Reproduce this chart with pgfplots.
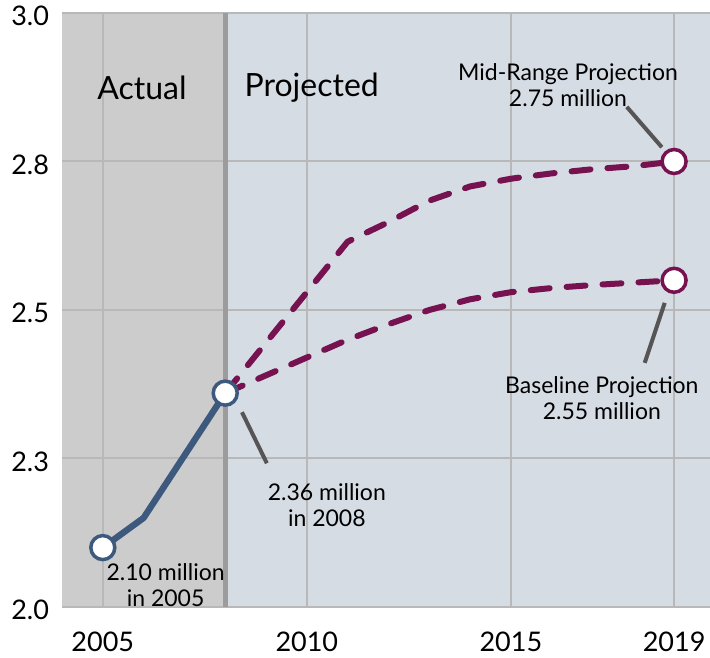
\documentclass[border=0pt]{standalone}
\usepackage{fontspec}
\setmainfont{Lato}
\usepackage{pgfplots}
\pgfplotsset{compat=1.18}
\definecolor{actbg}{HTML}{CCCCCC}
\definecolor{projbg}{HTML}{D6DCE4}
\definecolor{gridc}{HTML}{B8B8B8}
\definecolor{actline}{HTML}{3D5A7E}
\definecolor{projline}{HTML}{76124F}
\definecolor{conn}{HTML}{555555}
\definecolor{divline}{HTML}{9C9C9C}
\begin{document}
\begin{tikzpicture}
\begin{axis}[
  set layers,
  scale only axis,
  width=324bp, height=297bp,
  xmin=2004, xmax=2019.88,
  ymin=2, ymax=3,
  xtick={2005,2010,2015,2019},
  xticklabels={2005,2010,2015,2019},
  ytick={2,2.25,2.5,2.75,3},
  yticklabels={2.0,2.3,2.5,2.8,3.0},
  major tick length=0pt,
  axis line style={draw=none},
  grid=major,
  major grid style={draw=gridc, line width=1bp},
  axis background/.style={fill=projbg},
  tick label style={font=\fontsize{13.5bp}{16bp}\selectfont},
  /pgf/number format/assume math mode=true,
  xticklabel style={yshift=-9bp},
  yticklabel style={xshift=-3bp, yshift=-1.5bp},
  clip=false,
]
\addplot[fill=actbg, draw=none, on layer=axis background]
  coordinates {(2004,2) (2008,2) (2008,3) (2004,3)} -- cycle;
\draw[draw=divline, line width=2.5bp] (axis cs:2008,2) -- (axis cs:2008,3);

% projections
\addplot[projline, line width=3bp, line cap=round, dash pattern=on 9.5bp off 8.5bp, line join=round]
  coordinates {(2008,2.36) (2011,2.615) (2012,2.648) (2013,2.684) (2014,2.708) (2015,2.721) (2016,2.73) (2017,2.737) (2018,2.742) (2019,2.75)};
\addplot[projline, line width=3bp, line cap=round, dash pattern=on 9.5bp off 8.5bp, line join=round]
  coordinates {(2008,2.36) (2009,2.39) (2010,2.42) (2011,2.45) (2012,2.476) (2013,2.50) (2014,2.518) (2015,2.53) (2016,2.537) (2017,2.542) (2018,2.546) (2019,2.55)};
% actual
\addplot[actline, line width=3.2bp, line join=round]
  coordinates {(2005,2.10) (2006,2.15) (2007,2.255) (2008,2.36)};
% markers
\addplot[only marks, mark=*, mark size=6bp, mark options={draw=actline, fill=white, line width=1.75bp}]
  coordinates {(2005,2.10) (2008,2.36)};
\addplot[only marks, mark=*, mark size=6bp, mark options={draw=projline, fill=white, line width=1.75bp}]
  coordinates {(2019,2.75) (2019,2.55)};

% connectors
\draw[conn, line width=2bp] (axis cs:2009.02,2.242) -- (axis cs:2008.41,2.328);
\draw[conn, line width=2bp] (axis cs:2017.84,2.842) -- (axis cs:2018.70,2.774);
\draw[conn, line width=2bp] (axis cs:2018.77,2.512) -- (axis cs:2018.28,2.411);

% labels
\node[font=\fontsize{16bp}{19bp}\selectfont] at (axis cs:2005.96,2.874) {Actual};
\node[font=\fontsize{16bp}{19bp}\selectfont] at (axis cs:2010.12,2.874) {Projected};
\node[align=center, font=\fontsize{11.5bp}{13bp}\selectfont] at (axis cs:2006.54,2.037) {2.10 million\\in 2005};
\node[align=center, font=\fontsize{11.5bp}{13bp}\selectfont] at (axis cs:2010.49,2.172) {2.36 million\\in 2008};
\node[align=center, font=\fontsize{11.5bp}{13bp}\selectfont] at (axis cs:2016.40,2.879) {Mid-Range Projection\\2.75 million};
\node[align=center, font=\fontsize{11.5bp}{13bp}\selectfont] at (axis cs:2017.23,2.352) {Baseline Projection\\2.55 million};
\end{axis}
\pgfresetboundingbox
\path[use as bounding box] (-31bp,-25.5bp) rectangle (324bp,303.5bp);
\end{tikzpicture}
\end{document}
